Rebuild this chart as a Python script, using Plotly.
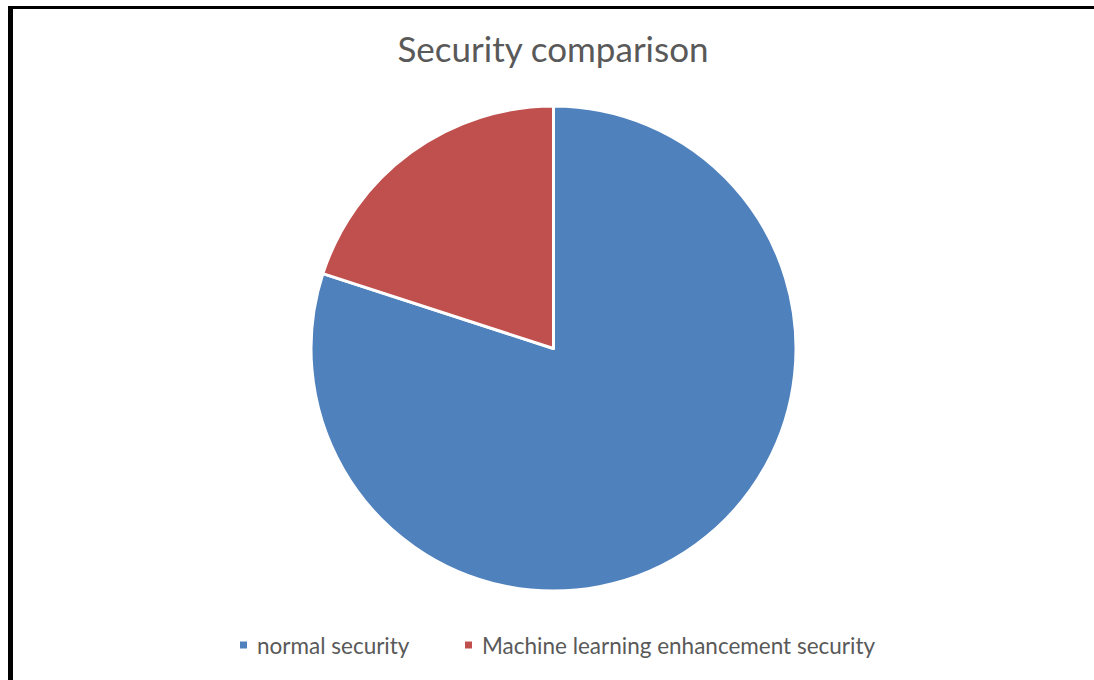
import plotly.graph_objects as go

labels = ["normal security", "Machine learning enhancement security"]
values = [80, 20]
colors = ["#4F81BD", "#C0504D"]

W, H = 1094, 680

fig = go.Figure(go.Pie(
    labels=labels,
    values=values,
    sort=False,
    direction="clockwise",
    rotation=0,
    marker=dict(colors=colors, line=dict(color="white", width=3)),
    textinfo="none",
    hoverinfo="label+value",
    showlegend=False,
    domain=dict(x=[311 / W, 796 / W], y=[1 - 591 / H, 1 - 106 / H]),
))

# manual legend (positions in pixels)
legend_marker_x = [243.5, 468.5]
legend_text_x = [254.5, 479.5]
legend_y = 645
shapes = [
    dict(type="rect", xref="paper", yref="paper",
         x0=8 / W, x1=1.0, y0=1 - 9 / H, y1=1 - 6 / H,
         fillcolor="black", line=dict(width=0)),
    dict(type="rect", xref="paper", yref="paper",
         x0=8 / W, x1=13 / W, y0=0, y1=1 - 6 / H,
         fillcolor="black", line=dict(width=0)),
]
annotations = []
for lab, col, mx, tx in zip(labels, colors, legend_marker_x, legend_text_x):
    shapes.append(dict(type="rect", xref="paper", yref="paper",
                       x0=(mx - 3.5) / W, x1=(mx + 3.5) / W,
                       y0=1 - (legend_y + 3.5) / H, y1=1 - (legend_y - 3.5) / H,
                       fillcolor=col, line=dict(width=0)))
    annotations.append(dict(text=lab, xref="paper", yref="paper",
                            x=tx / W, xanchor="left", y=1 - legend_y / H,
                            yanchor="middle", showarrow=False,
                            font=dict(size=22.5, color="#595959")))

fig.update_layout(
    width=W, height=H,
    margin=dict(l=0, r=0, t=0, b=0),
    paper_bgcolor="white",
    plot_bgcolor="white",
    font=dict(family="Lato, Open Sans, sans-serif", color="#595959"),
    title=dict(text="Security comparison", x=553 / W, xanchor="center",
               y=1 - 50 / H, yanchor="middle",
               font=dict(size=35, color="#595959")),
    showlegend=False,
    shapes=shapes,
    annotations=annotations,
)

fig.write_html("out.html")
